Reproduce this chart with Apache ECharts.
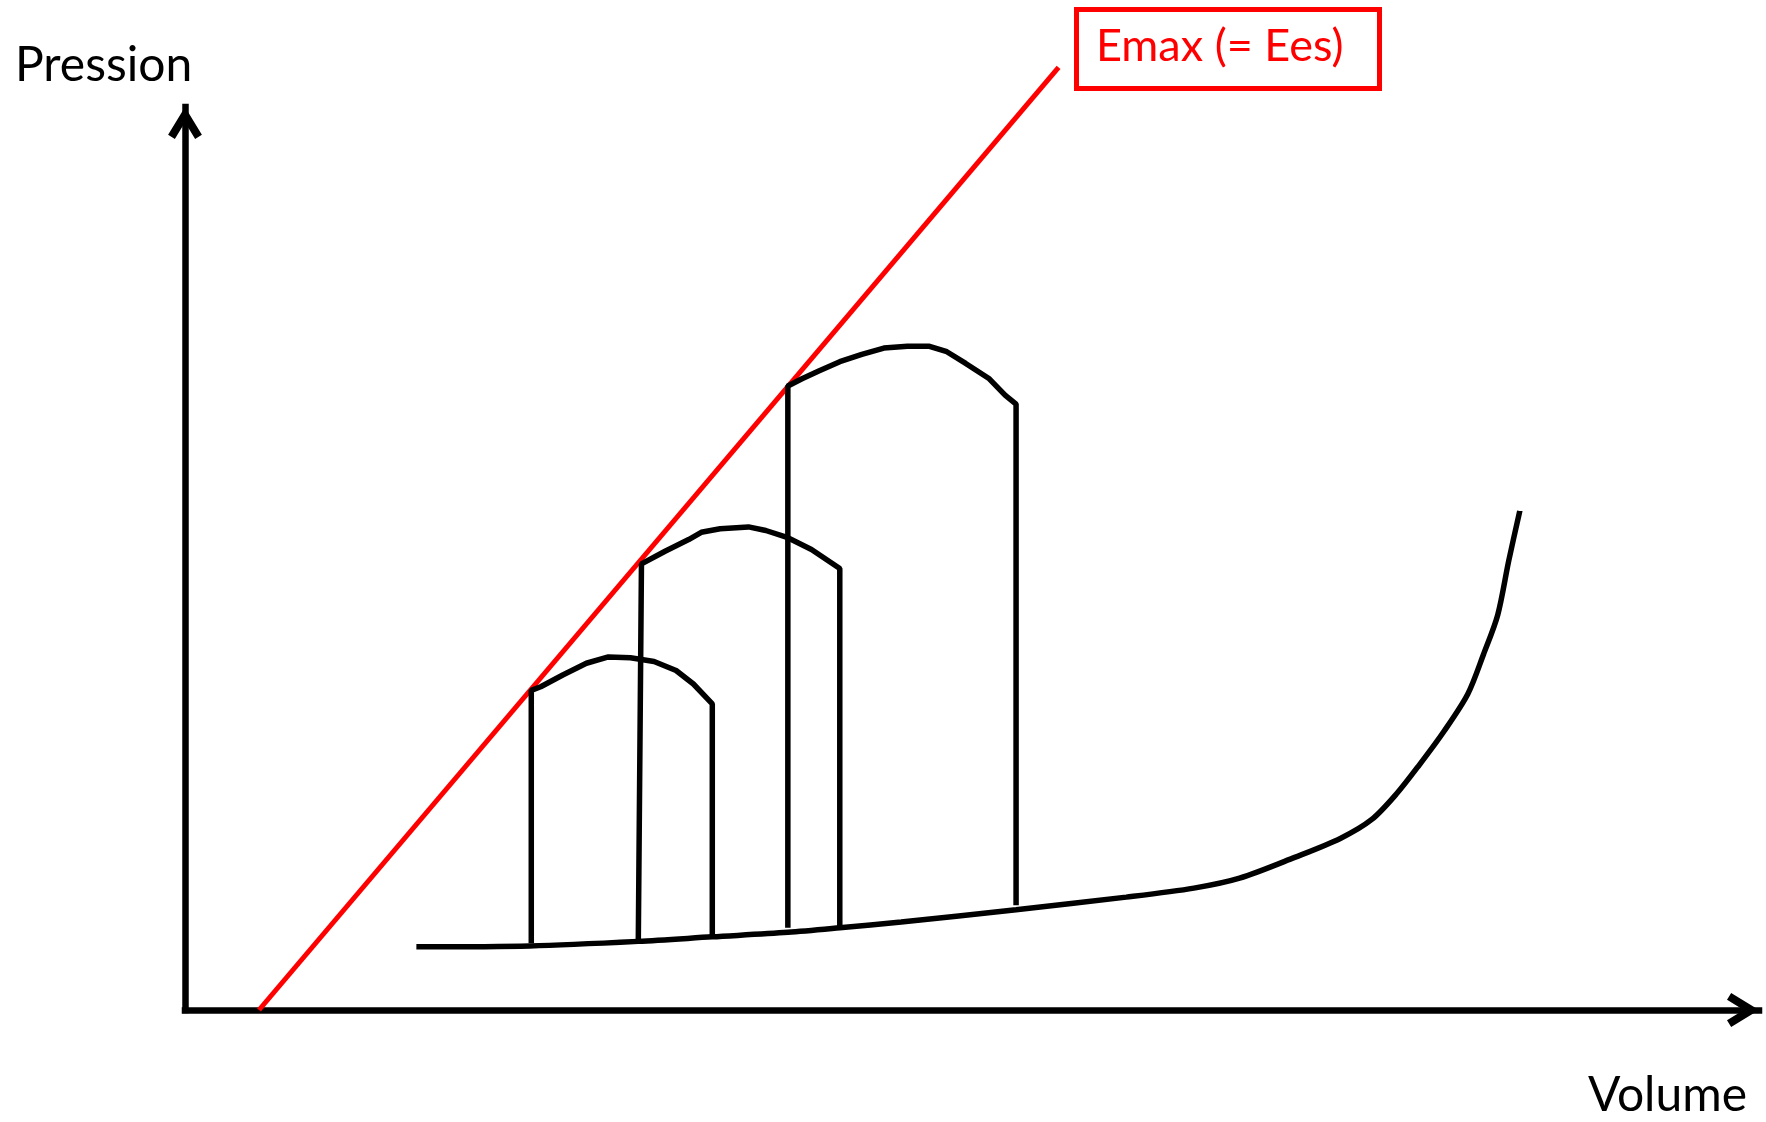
<!DOCTYPE html>
<html>
<head>
<meta charset="utf-8">
<title>Emax (= Ees)</title>
<script src="https://cdn.jsdelivr.net/npm/echarts@6.0.0/dist/echarts.min.js"></script>
<style>
  html, body { margin: 0; padding: 0; background: #fff; }
  #chart { width: 1766px; height: 1122px; }
</style>
</head>
<body>
<div id="chart"></div>
<script>
// values, volume / pressure in arbitrary units (0-100)
const espvr = [[4.7, 0], [55.5, 104.4]];

const loopSmall = [[22.0, 7.4], [22.0, 35.4], [22.6, 35.8], [24.0, 37.1], [25.5, 38.4], [26.9, 39.1],
  [28.3, 39.0], [29.8, 38.6], [31.2, 37.6], [32.3, 36.1], [33.5, 33.9], [33.5, 8.1]];

const loopMid = [[28.8, 7.75], [29.0, 49.4], [30.5, 50.8], [32.0, 52.1], [32.8, 52.9], [34.0, 53.3],
  [35.8, 53.5], [36.9, 53.1], [38.3, 52.3], [39.8, 51.0], [41.6, 48.9], [41.6, 9.1]];

const loopBig = [[38.3, 9.1], [38.3, 69.1], [39.2, 69.9], [40.3, 70.8], [41.6, 71.8], [43.0, 72.6],
  [44.4, 73.3], [45.9, 73.5], [47.3, 73.5], [48.4, 72.9], [49.6, 71.6], [51.1, 69.9], [52.1, 68.1],
  [52.8, 67.1], [52.8, 11.6]];

const edpvr = [[14.7, 7.0], [21.9, 7.1], [28.8, 7.6], [33.5, 8.1], [38.3, 8.6], [41.6, 9.1], [45.5, 9.75],
  [52.8, 11.1], [59.8, 12.5], [64.1, 13.5], [67.0, 14.6], [70.5, 16.9], [73.4, 19.0], [75.4, 21.1],
  [77.0, 24.0], [78.4, 27.1], [80.0, 30.9], [81.5, 35.0], [82.5, 39.4], [83.4, 43.75], [84.1, 49.75],
  [84.8, 55.25]];

const FONT = 'Lato, "Open Sans", sans-serif';
// open chevron head, tip on top
const chevron = 'path://M17 0 L34 28 L27.2 32.2 L17 15.4 L6.8 32.2 L0 28 Z';

const axisBase = {
  type: 'value',
  min: 0,
  max: 100,
  splitLine: { show: false },
  axisTick: { show: false },
  axisLabel: { show: false },
  axisLine: {
    show: true,
    symbol: ['none', chevron],
    symbolSize: [34, 32],
    symbolOffset: [0, -16],
    lineStyle: { color: '#000', width: 6.5, cap: 'square' }
  }
};

const loopSeries = (data) => ({
  type: 'line',
  data: data,
  symbol: 'none',
  clip: false,
  lineStyle: { color: '#000', width: 5.5 }
});

const option = {
  animation: false,
  backgroundColor: '#fff',
  title: [
    {
      text: 'Pression', left: 15, top: 42, padding: 0,
      textStyle: { fontFamily: FONT, fontSize: 48, fontWeight: 'normal', color: '#000' }
    },
    {
      text: 'Volume', left: 1588, top: 1072, padding: 0,
      textStyle: { fontFamily: FONT, fontSize: 48, fontWeight: 'normal', color: '#000' }
    },
    {
      text: 'Emax (= Ees)', left: 1076, top: 9, padding: [15, 36, 20, 20],
      borderColor: '#ff0000', borderWidth: 5,
      textStyle: { fontFamily: FONT, fontSize: 45, fontWeight: 'normal', color: '#ff0000' }
    }
  ],
  grid: { left: 185, right: 7, top: 107, bottom: 112 },
  xAxis: axisBase,
  yAxis: axisBase,
  series: [
    {
      type: 'line',
      data: espvr,
      symbol: 'none',
      clip: false,
      lineStyle: { color: '#ff0000', width: 5 }
    },
    loopSeries(loopSmall),
    loopSeries(loopMid),
    loopSeries(loopBig),
    {
      type: 'line',
      data: edpvr,
      symbol: 'none',
      smooth: 0.3,
      clip: false,
      lineStyle: { color: '#000', width: 5.5 }
    }
  ]
};

const chart = echarts.init(document.getElementById('chart'));
chart.setOption(option);
</script>
</body>
</html>
